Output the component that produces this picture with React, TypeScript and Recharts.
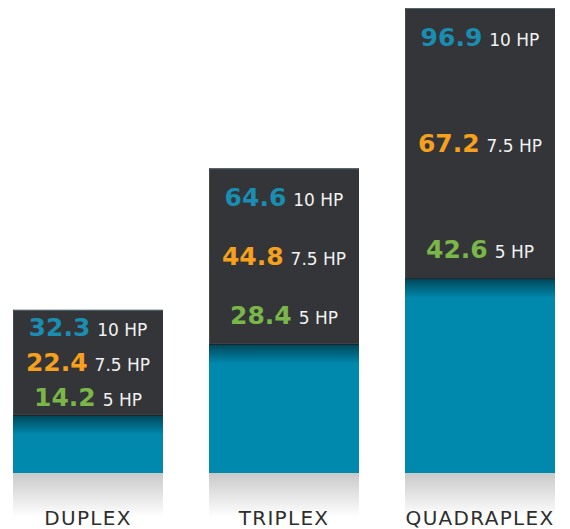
import { Bar, BarChart, XAxis, YAxis } from 'recharts';

const categories = ['DUPLEX', 'TRIPLEX', 'QUADRAPLEX'];
const hp10 = [32.3, 64.6, 96.9];
const hp75 = [22.4, 44.8, 67.2];
const hp5 = [14.2, 28.4, 42.6];
// bar segment heights (same units as the 10 HP totals)
const tealSegment = [12.1, 26.9, 40.6];
const darkSegment = [21.9, 36.6, 56.3];

const TEAL = '#0089ad';
const DARK = '#333538';
const FONT = '"DejaVu Sans", sans-serif';

const data = categories.map((name, i) => ({
  name,
  teal: tealSegment[i],
  dark: darkSegment[i],
  hp10: hp10[i],
  hp75: hp75[i],
  hp5: hp5[i],
}));

type ShapeProps = {
  x?: number;
  y?: number;
  width?: number;
  height?: number;
  payload?: (typeof data)[number];
};

function TealShape({ x = 0, y = 0, width = 0, height = 0 }: ShapeProps) {
  return (
    <g>
      <rect x={x} y={y + height} width={width} height={44} fill="url(#reflect)" />
      <rect x={x} y={y} width={width} height={height} fill={TEAL} />
      <rect x={x} y={y} width={width} height={20} fill="url(#shade)" />
      <line x1={x} x2={x + width} y1={y + 0.5} y2={y + 0.5} stroke="#1d2427" />
    </g>
  );
}

function DarkShape({ x = 0, y = 0, width = 0, height = 0, payload }: ShapeProps) {
  if (!payload) return null;
  const rows = [
    { value: payload.hp10, unit: '10 HP', color: '#1a8db2' },
    { value: payload.hp75, unit: '7.5 HP', color: '#f6a01e' },
    { value: payload.hp5, unit: '5 HP', color: '#7ab648' },
  ];
  const pad = Math.min(height / 6, 29);
  const step = (height - pad * 2) / 2;
  const cx = x + width / 2;
  return (
    <g>
      <rect x={x} y={y} width={width} height={height} fill={DARK} />
      <line x1={x} x2={x + width} y1={y + 0.5} y2={y + 0.5} stroke="#4e6770" />
      <line x1={x + 0.5} x2={x + 0.5} y1={y} y2={y + height} stroke="#43494c" />
      {rows.map((r, i) => (
        <text
          key={r.unit}
          x={cx}
          y={y + pad + step * i + 9}
          textAnchor="middle"
          fontFamily={FONT}
        >
          <tspan fontSize={25} fontWeight={700} fill={r.color}>
            {r.value.toFixed(1)}
          </tspan>
          <tspan dx={7} fontSize={17} fill="#f2f2f2">
            {r.unit}
          </tspan>
        </text>
      ))}
    </g>
  );
}

function CategoryTick({ x = 0, y = 0, payload }: { x?: number; y?: number; payload?: { value: string } }) {
  return (
    <text
      x={x}
      y={y + 44}
      textAnchor="middle"
      fontFamily={FONT}
      fontSize={20}
      letterSpacing={1.3}
      fill="#2e2e2e"
    >
      {payload?.value}
    </text>
  );
}

export default function App() {
  return (
    <div style={{ width: 570, height: 529, background: '#fff' }}>
      <style>{'body{margin:0}'}</style>
      <BarChart
        width={570}
        height={529}
        data={data}
        margin={{ top: 8, right: -8, bottom: 0, left: -10 }}
        barSize={150}
      >
        <defs>
          <linearGradient id="shade" x1="0" y1="0" x2="0" y2="1">
            <stop offset="0%" stopColor="#000" stopOpacity={0.5} />
            <stop offset="100%" stopColor="#000" stopOpacity={0} />
          </linearGradient>
          <linearGradient id="reflect" x1="0" y1="0" x2="0" y2="1">
            <stop offset="0%" stopColor="#c9c9c9" />
            <stop offset="100%" stopColor="#ffffff" />
          </linearGradient>
        </defs>
        <XAxis
          dataKey="name"
          axisLine={false}
          tickLine={false}
          height={56}
          interval={0}
          tick={<CategoryTick />}
        />
        <YAxis hide domain={[0, 96.9]} />
        <Bar dataKey="teal" stackId="a" shape={<TealShape />} isAnimationActive={false} />
        <Bar dataKey="dark" stackId="a" shape={<DarkShape />} isAnimationActive={false} />
      </BarChart>
    </div>
  );
}
